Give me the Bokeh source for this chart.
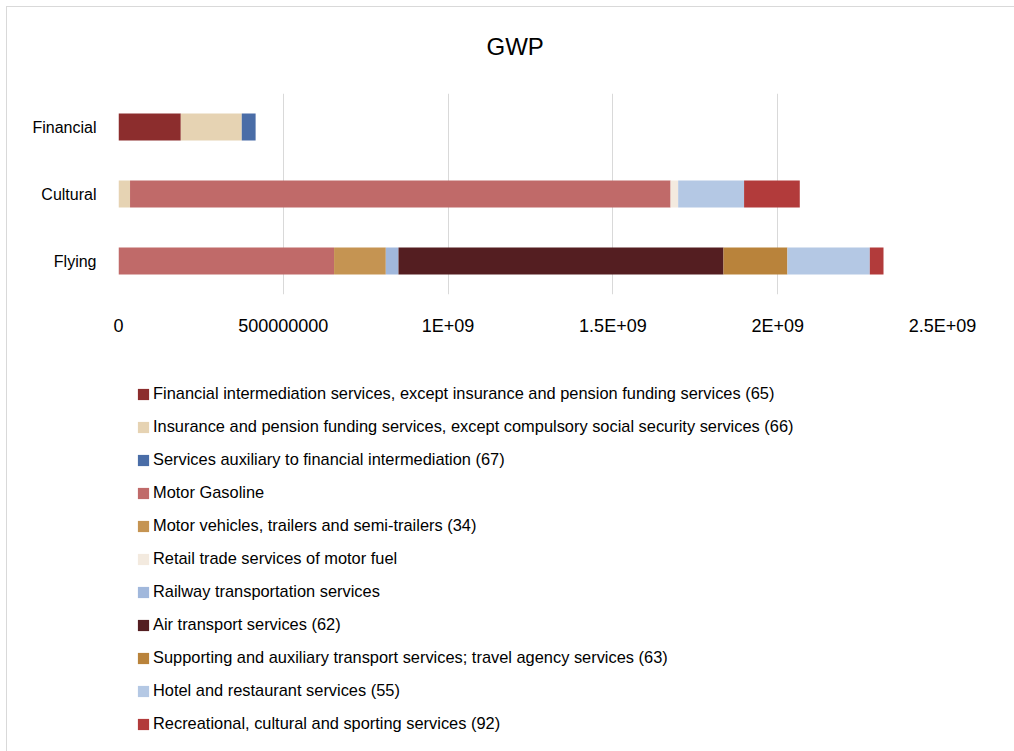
from bokeh.plotting import figure
from bokeh.layouts import column
from bokeh.models import (FactorRange, Range1d, FixedTicker, CustomJSTickFormatter,
                          Legend, LegendItem, ColumnDataSource)
from bokeh.embed import file_html
from bokeh.resources import INLINE

title_text = "GWP"
categories = ["Financial", "Cultural", "Flying"]

series_names = [
    "Financial intermediation services, except insurance and pension funding services (65)",
    "Insurance and pension funding services, except compulsory social security services (66)",
    "Services auxiliary to financial intermediation (67)",
    "Motor Gasoline",
    "Motor vehicles, trailers and semi-trailers (34)",
    "Retail trade services of motor fuel",
    "Railway transportation services",
    "Air transport services (62)",
    "Supporting and auxiliary transport services; travel agency services (63)",
    "Hotel and restaurant services (55)",
    "Recreational, cultural and sporting services (92)",
]

# values per category: [Financial, Cultural, Flying]
fin_intermediation = [1.89e8, 0, 0]
insurance_pension = [1.85e8, 3.5e7, 0]
services_auxiliary = [4.2e7, 0, 0]
motor_gasoline = [0, 1.64e9, 6.54e8]
motor_vehicles = [0, 0, 1.57e8]
retail_motor_fuel = [0, 2.3e7, 0]
railway = [0, 0, 3.85e7]
air_transport = [0, 0, 9.86e8]
supporting_transport = [0, 0, 1.94e8]
hotel_restaurant = [0, 2.0e8, 2.5e8]
recreational = [0, 1.69e8, 4.15e7]

series_values = [fin_intermediation, insurance_pension, services_auxiliary, motor_gasoline,
                 motor_vehicles, retail_motor_fuel, railway, air_transport,
                 supporting_transport, hotel_restaurant, recreational]

colors = ["#8C2D2D", "#E6D3B3", "#4A6DA7", "#C06A69", "#C59452", "#F3EADF",
          "#A1B8DC", "#541E21", "#B9833B", "#B4C8E4", "#B23B3B"]

tick_values = [0, 5e8, 1e9, 1.5e9, 2e9, 2.5e9]
tick_labels = ["0", "500000000", "1E+09", "1.5E+09", "2E+09", "2.5E+09"]

keys = ["s%d" % i for i in range(len(series_names))]
data = {"cat": categories}
for k, v in zip(keys, series_values):
    data[k] = v
source = ColumnDataSource(data)

# ---- title strip ----
pt = figure(frame_width=824, frame_height=1, output_backend="svg", toolbar_location=None,
            x_axis_location=None, y_axis_location=None,
            min_border_left=111, min_border_right=72, min_border_top=0, min_border_bottom=0)
pt.outline_line_color = None
pt.grid.visible = False
pt.title.text = title_text
pt.title.align = "left"
pt.title.offset = 368
pt.title.text_font = "Liberation Sans"
pt.title.text_font_size = "24px"
pt.title.text_font_style = "normal"
pt.title.text_color = "#000000"
pt.title.standoff = 47

# ---- main chart ----
p = figure(frame_width=824, frame_height=201, output_backend="svg", toolbar_location=None,
           y_range=FactorRange(factors=categories[::-1], range_padding=0),
           x_range=Range1d(0, 2.5e9),
           min_border_left=111, min_border_right=72, min_border_top=9,
           min_border_bottom=56)
p.title.text = ""
p.title.standoff = 0
p.title.text_font_size = "1px"

renderers = p.hbar_stack(keys, y="cat", height=0.4, color=colors, source=source,
                         line_color=None)

p.outline_line_color = None
p.ygrid.visible = False
p.xgrid.grid_line_color = "#D9D9D9"
p.xgrid.grid_line_width = 1

p.xaxis.ticker = FixedTicker(ticks=tick_values)
p.xaxis.formatter = CustomJSTickFormatter(args=dict(vals=tick_values, labs=tick_labels), code="""
    for (let i = 0; i < vals.length; i++) {
        if (Math.abs(vals[i] - tick) < 1) return labs[i];
    }
    return "";
""")
p.xaxis.axis_line_color = None
p.xaxis.major_tick_line_color = None
p.xaxis.minor_tick_line_color = None
p.xaxis.major_label_standoff = 15
p.xaxis.major_label_text_font = "Liberation Sans"
p.xaxis.major_label_text_font_size = "18px"
p.xaxis.major_label_text_color = "#000000"

p.yaxis.axis_line_color = None
p.yaxis.major_tick_line_color = None
p.yaxis.minor_tick_line_color = None
p.yaxis.major_label_standoff = 16
p.yaxis.major_label_text_font = "Liberation Sans"
p.yaxis.major_label_text_font_size = "16px"
p.yaxis.major_label_text_color = "#000000"

# ---- legend strip (swatch proxies in the same series colours, not drawn in view) ----
pl = figure(width=1007, height=401, output_backend="svg", toolbar_location=None,
            x_axis_location=None, y_axis_location=None,
            x_range=Range1d(0, 1), y_range=Range1d(0, 1),
            min_border_left=0, min_border_right=0, min_border_top=0, min_border_bottom=0)
pl.outline_line_color = None
pl.grid.visible = False
nan = float("nan")
legend_renderers = [pl.hbar(y=[nan], left=[nan], right=[nan], height=0.4, color=c,
                            line_color=None) for c in colors]

items = [LegendItem(label=n, renderers=[r]) for n, r in zip(series_names, legend_renderers)]
legend = Legend(items=items, location=(18, 17), orientation="vertical")
legend.label_text_font = "Liberation Sans"
legend.label_text_font_size = "16.4px"
legend.label_text_color = "#000000"
legend.glyph_width = 14
legend.glyph_height = 14
legend.label_standoff = 3
legend.label_height = 21
legend.spacing = 12
legend.padding = 0
legend.margin = 0
legend.border_line_color = None
legend.background_fill_alpha = 0
pl.add_layout(legend, "center")

layout = column(pt, p, pl, spacing=0,
                styles={"margin-left": "6px", "margin-top": "6px",
                        "border-left": "1px solid #D9D9D9",
                        "border-top": "1px solid #D9D9D9"})

open("out.html", "w").write(file_html(layout, INLINE))
